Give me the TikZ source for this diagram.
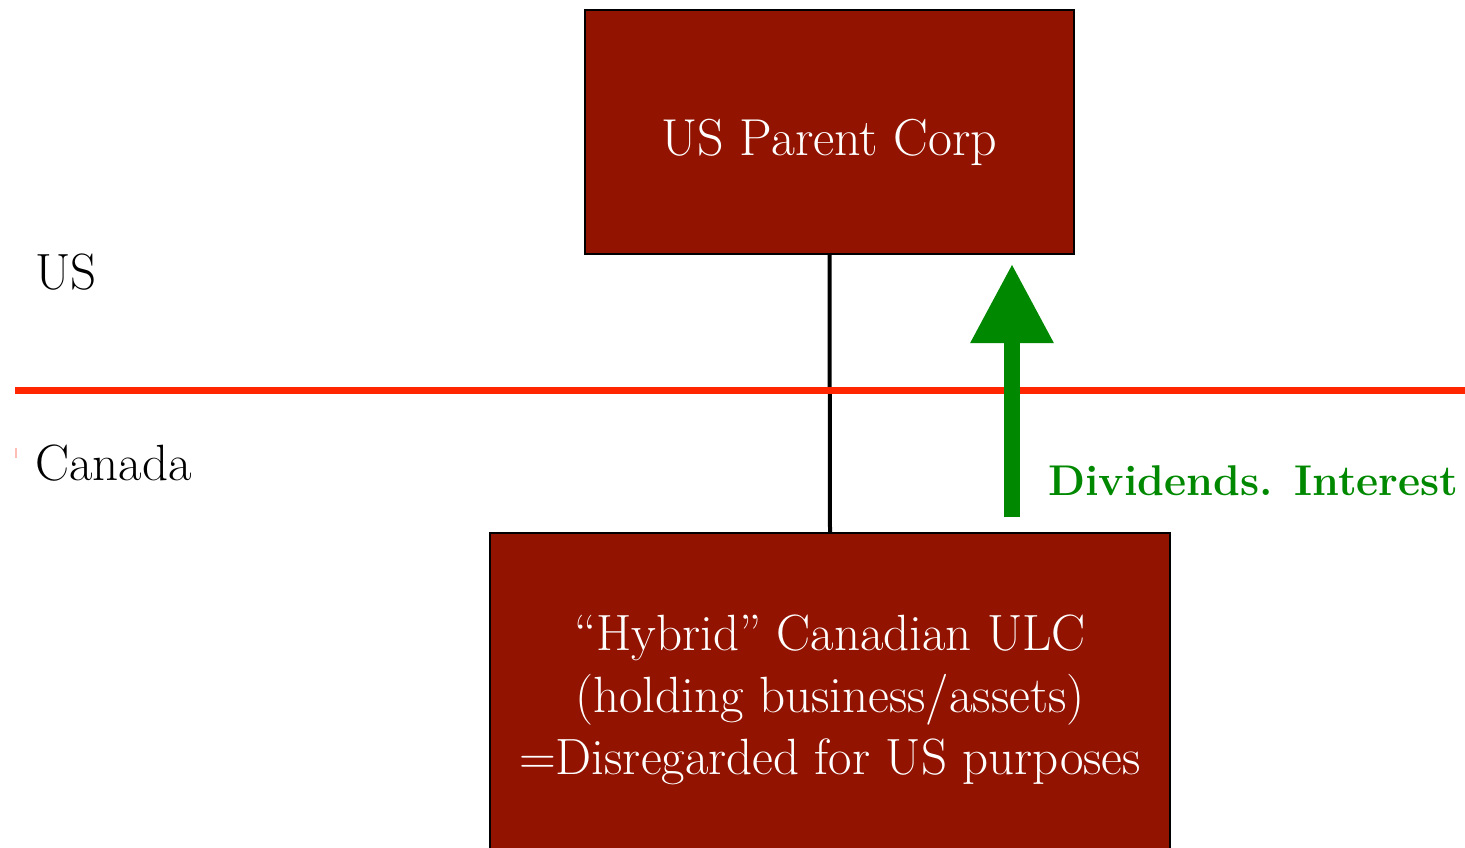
\documentclass[tikz,border=0pt]{standalone}
\usetikzlibrary{arrows.meta}
\definecolor{boxred}{RGB}{146,19,0}
\definecolor{borderred}{RGB}{255,38,0}
\definecolor{flowgreen}{RGB}{0,137,0}
\tikzset{
  entity/.style={draw=black, line width=2pt, fill=boxred, text=white, align=center, inner sep=0pt},
  owner/.style={draw=black, line width=4pt},
  border/.style={draw=borderred, line width=7pt},
  flow/.style={draw=flowgreen, line width=16pt, -{Triangle[width=79pt,length=79pt]}},
  region/.style={anchor=base west, inner sep=0pt, font=\fontsize{51}{60}\selectfont},
}
\begin{document}
\begin{tikzpicture}[x=1pt,y=-1pt]
\useasboundingbox (0,0) rectangle (1465,847);
\clip (0,0) rectangle (1465,847);
\node[entity, minimum width=489pt, minimum height=244pt, text height=46pt, text depth=0pt, font=\fontsize{52}{60}\selectfont] (parent) at (829.5,132) {US Parent Corp};
\node[entity, minimum width=680pt, minimum height=334pt, font=\fontsize{51}{62}\selectfont] (ulc) at (830,700)
  {``Hybrid'' Canadian ULC\\(holding business/assets)\\=Disregarded for US purposes};
\draw[owner] (parent.south) -- (ulc.north);
\coordinate (bl) at (15,390);
\coordinate (br) at (1465,390);
\draw[border] (bl) -- (br);
\draw[draw={rgb,255:red,255;green,190;blue,180}, line width=1.5pt] (16,448) -- (16,458);
\node[region] (us) at (35,289) {US};
\node[region] (ca) at (35,480) {Canada};
\coordinate (fs) at (1012,517);
\coordinate (fe) at (1012,264);
\draw[flow] (fs) -- (fe);
\node[anchor=base west, inner sep=0pt, text=flowgreen, font=\fontsize{43}{50}\selectfont\bfseries] (div) at (1048,495) {Dividends. Interest};
\end{tikzpicture}
\end{document}
